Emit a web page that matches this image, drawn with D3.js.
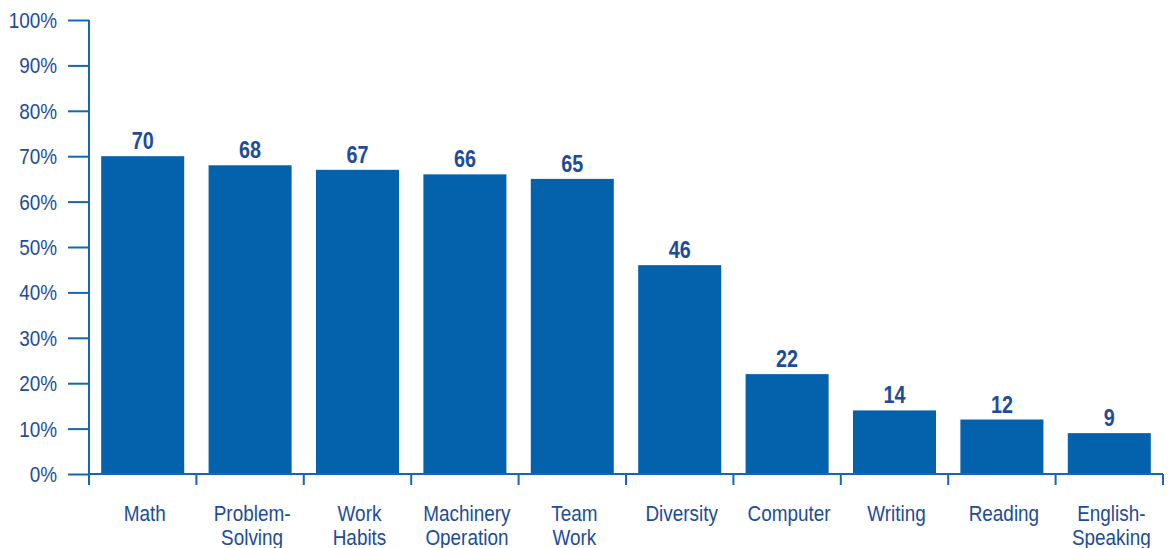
<!DOCTYPE html>
<html>
<head>
<meta charset="utf-8">
<script src="https://cdn.jsdelivr.net/npm/d3@7"></script>
<style>
  html, body { margin: 0; padding: 0; background: #fff; }
  svg { display: block; font-family: "Liberation Sans", Arial, sans-serif; }
</style>
</head>
<body>
<svg id="chart" width="1169" height="548"></svg>
<script>
// Skills data: share of respondents (%)
const categories = [
  ["Math"], ["Problem-", "Solving"], ["Work", "Habits"], ["Machinery", "Operation"],
  ["Team", "Work"], ["Diversity"], ["Computer"], ["Writing"], ["Reading"], ["English-", "Speaking"]
];
const values = [70, 68, 67, 66, 65, 46, 22, 14, 12, 9];
const yTicks = [0, 10, 20, 30, 40, 50, 60, 70, 80, 90, 100];

const barColor = "#0461AC";
const axisColor = "#1467B0";
const textColor = "#1D4C98";
const squeeze = 0.86; // condensed lettering

const svg = d3.select("#chart");
const plotLeft = 89, plotRight = 1163, plotTop = 20, plotBottom = 474;

const keys = categories.map(c => c.join(" "));
const x = d3.scaleBand().domain(keys).range([plotLeft, plotRight])
  .paddingInner(0.227).paddingOuter(0.1135);
const y = d3.scaleLinear().domain([0, 100]).range([plotBottom, plotTop]);
const cx = i => x(keys[i]) + x.bandwidth() / 2;

// bars
svg.append("g").selectAll("rect").data(values).join("rect")
  .attr("x", (d, i) => x(keys[i]))
  .attr("y", d => y(d))
  .attr("width", x.bandwidth())
  .attr("height", d => y(0) - y(d))
  .attr("fill", barColor);

// value labels
svg.append("g").selectAll("text").data(values).join("text")
  .attr("transform", (d, i) => `translate(${cx(i)},${y(d) - 7}) scale(${squeeze},1)`)
  .attr("text-anchor", "middle")
  .attr("font-size", 23)
  .attr("font-weight", "bold")
  .attr("fill", textColor)
  .text(d => d);

// y axis ticks and labels
const yAxis = svg.append("g").attr("transform", `translate(${plotLeft},0)`)
  .call(d3.axisLeft(y).tickValues(yTicks).tickFormat("").tickSize(21));
yAxis.select(".domain").remove();
yAxis.selectAll(".tick line").attr("stroke", axisColor).attr("stroke-width", 2);
svg.append("g").selectAll("text").data(yTicks).join("text")
  .attr("transform", d => `translate(57,${y(d)}) scale(${squeeze},1)`)
  .attr("dy", "0.36em")
  .attr("text-anchor", "end")
  .attr("font-size", 22)
  .attr("fill", textColor)
  .text(d => d + "%");
svg.append("line").attr("x1", plotLeft).attr("x2", plotLeft).attr("y1", plotTop).attr("y2", plotBottom + 11)
  .attr("stroke", axisColor).attr("stroke-width", 2);

// x axis baseline and category boundary ticks
svg.append("line").attr("x1", plotLeft).attr("x2", plotRight).attr("y1", plotBottom).attr("y2", plotBottom)
  .attr("stroke", axisColor).attr("stroke-width", 2);
const step = x.step();
const boundaries = d3.range(keys.length + 1).map(i => plotLeft + i * step);
svg.append("g").selectAll("line").data(boundaries).join("line")
  .attr("x1", d => d).attr("x2", d => d)
  .attr("y1", plotBottom).attr("y2", plotBottom + 11)
  .attr("stroke", axisColor).attr("stroke-width", 2);

// category labels
const lbl = svg.append("g").selectAll("text").data(categories).join("text")
  .attr("text-anchor", "middle")
  .attr("font-size", 22)
  .attr("fill", textColor)
  .attr("transform", (d, i) => `translate(${cx(i) + 2},521) scale(${squeeze},1)`);
lbl.selectAll("tspan").data(d => d).join("tspan")
  .attr("x", 0).attr("y", (d, j) => j * 24)
  .text(d => d);
</script>
</body>
</html>
